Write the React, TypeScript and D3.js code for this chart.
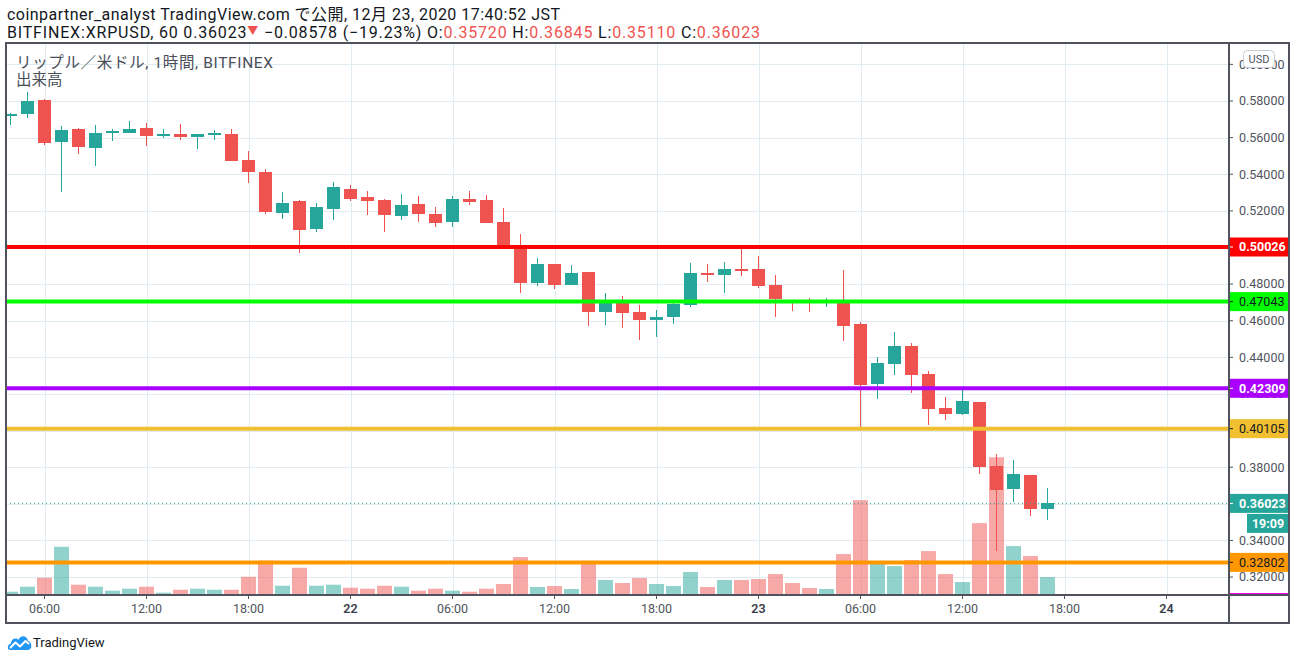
import React, { useEffect } from 'react';
import * as d3 from 'd3';

// ---------- DATA ----------
const startTime = new Date(2020, 11, 21, 4, 0, 0); // first hourly candle
const opens = [
  0.5720, 0.5731, 0.5805, 0.5578, 0.5647, 0.5545, 0.5627, 0.5627, 0.5653, 0.5609,
  0.5620, 0.5605, 0.5614, 0.5620, 0.5478, 0.5412, 0.5190, 0.5254, 0.5103, 0.5212,
  0.5319, 0.5276, 0.5259, 0.5173, 0.5237, 0.5183, 0.5141, 0.5265, 0.5259, 0.5139,
  0.4999, 0.4808, 0.4910, 0.4797, 0.4866, 0.4649, 0.4698, 0.4649, 0.4606, 0.4622,
  0.4688, 0.4861, 0.4851, 0.4882, 0.4882, 0.4795, 0.4710, 0.4710, 0.4698, 0.4704,
  0.4582, 0.4256, 0.4365, 0.4462, 0.4309, 0.4123, 0.4093, 0.4156, 0.3807, 0.3683,
  0.3757, 0.35720,
];
const highs = [
  0.5735, 0.5851, 0.5811, 0.5663, 0.5653, 0.5669, 0.5647, 0.5692, 0.5680, 0.5647,
  0.5674, 0.5620, 0.5642, 0.5647, 0.5527, 0.5429, 0.5303, 0.5259, 0.5243, 0.5358,
  0.5341, 0.5308, 0.5265, 0.5292, 0.5281, 0.5221, 0.5281, 0.5308, 0.5287, 0.5216,
  0.5074, 0.4944, 0.4910, 0.4904, 0.4866, 0.4753, 0.4737, 0.4688, 0.4660, 0.4698,
  0.4915, 0.4910, 0.4921, 0.4996, 0.4953, 0.4850, 0.4715, 0.4722, 0.4722, 0.4877,
  0.4594, 0.4402, 0.4538, 0.4478, 0.4325, 0.4183, 0.4222, 0.4156, 0.3872, 0.3839,
  0.3757, 0.36845,
];
const lows = [
  0.5669, 0.5709, 0.5560, 0.5305, 0.5511, 0.5447, 0.5583, 0.5627, 0.5554, 0.5600,
  0.5587, 0.5540, 0.5587, 0.5472, 0.5352, 0.5184, 0.5157, 0.4971, 0.5086, 0.5152,
  0.5255, 0.5179, 0.5086, 0.5152, 0.5141, 0.5113, 0.5113, 0.5234, 0.5135, 0.4995,
  0.4753, 0.4791, 0.4775, 0.4797, 0.4573, 0.4578, 0.4562, 0.4496, 0.4513, 0.4584,
  0.4677, 0.4813, 0.4753, 0.4846, 0.4780, 0.4622, 0.4655, 0.4649, 0.4677, 0.4491,
  0.4015, 0.4170, 0.4305, 0.4207, 0.4030, 0.4060, 0.4087, 0.3765, 0.3344, 0.3612,
  0.3535, 0.35110,
];
const closes = [
  0.5731, 0.5800, 0.5572, 0.5642, 0.5550, 0.5625, 0.5636, 0.5647, 0.5610, 0.5620,
  0.5605, 0.5620, 0.5625, 0.5472, 0.5412, 0.5195, 0.5243, 0.5097, 0.5221, 0.5330,
  0.5266, 0.5256, 0.5179, 0.5232, 0.5184, 0.5135, 0.5265, 0.5250, 0.5135, 0.5003,
  0.4808, 0.4910, 0.4797, 0.4861, 0.4649, 0.4698, 0.4644, 0.4606, 0.4620, 0.4693,
  0.4861, 0.4851, 0.4882, 0.4873, 0.4791, 0.4720, 0.4700, 0.4700, 0.4703, 0.4573,
  0.4251, 0.4369, 0.4462, 0.4305, 0.4120, 0.4092, 0.4161, 0.3803, 0.3677, 0.3763,
  0.3570, 0.36023,
];
const volumes = [
  33, 83, 173, 483, 103, 83, 43, 63, 83, 23,
  53, 63, 53, 53, 183, 343, 93, 273, 93, 103,
  73, 63, 93, 83, 43, 63, 43, 33, 63, 110,
  380, 80, 90, 60, 330, 150, 120, 170, 110, 90,
  230, 80, 150, 150, 160, 210, 120, 70, 60, 410,
  950, 340, 290, 350, 440, 210, 130, 720, 1380, 490,
  390, 180,
];
const priceTicks = [0.32, 0.34, 0.36, 0.38, 0.40, 0.42, 0.44, 0.46, 0.48, 0.50, 0.52, 0.54, 0.56, 0.58, 0.60];
const levelPrices = [0.50026, 0.47043, 0.42309, 0.40105, 0.32802];
const lastPrice = 0.36023;
const countdownLabel = '19:09';
const headerLine1 = 'coinpartner_analyst TradingView.com で公開, 12月 23, 2020 17:40:52 JST';
const symbolLabel = 'BITFINEX:XRPUSD, 60 0.36023';
const changeLabel = ' −0.08578 (−19.23%)';
const ohlcKeys = ['O:', 'H:', 'L:', 'C:'];
const ohlcValues = ['0.35720', '0.36845', '0.35110', '0.36023'];
const legendTitle = 'リップル／米ドル, 1時間, BITFINEX';
const legendVolume = '出来高';

// ---------- STYLE ----------
const UP = '#26a69a';
const DOWN = '#ef5350';
const UP_VOL = 'rgba(38,166,154,0.5)';
const DOWN_VOL = 'rgba(239,83,80,0.5)';
const GRID = '#e1ecf2';
const BORDER = '#50535e';
const TEXT = '#131722';
const AXIS_TEXT = '#50535e';
const levelColors = ['#ff0000', '#00ff00', '#aa00ff', '#f0c030', '#ff9800'];
const levelTextColors = ['#ffffff', '#131722', '#ffffff', '#131722', '#131722'];
const levelTextBold = [true, false, true, false, false];
const FONT = "Roboto, 'Noto Sans CJK JP', sans-serif";

const W = 1296;
const H = 661;
const L = 6, R = 1229, T = 44, B = 595, AXR = 1289, BB = 623;

export default function App() {
  useEffect(() => {
    document.body.style.margin = '0';
  }, []);

  const times = opens.map((_, i) => d3.timeHour.offset(startTime, i));
  const pxPerHour = 17;
  const firstX = 10.5;
  const msH = 3600 * 1000;
  const x = d3
    .scaleTime()
    .domain([
      new Date(startTime.getTime() - ((firstX - L) / pxPerHour) * msH),
      new Date(startTime.getTime() + ((R - firstX) / pxPerHour) * msH),
    ])
    .range([L, R]);
  const pxPerUnit = 1831;
  const y = d3
    .scaleLinear()
    .domain([0.58 - (B - 101) / pxPerUnit, 0.58 + (101 - T) / pxPerUnit])
    .range([B, T]);
  const vMax = d3.max(volumes) as number;
  const yv = d3.scaleLinear().domain([0, vMax]).range([B, B - (B - T) * 0.25]);

  const timeTicks = d3.timeHour.every(6)!.range(x.domain()[0], x.domain()[1]);
  const fmtHour = d3.timeFormat('%H:%M');
  const fmtDay = d3.timeFormat('%-d');
  const tickLabel = (d: Date) => (d.getHours() === 0 ? fmtDay(d) : fmtHour(d));

  const bodyW = 13;
  const volW = 16;

  return (
    <svg width={W} height={H} style={{ display: 'block', background: '#fff' }} fontFamily={FONT}>
      <defs>
        <clipPath id="plot">
          <rect x={L} y={T} width={R - L} height={B - T} />
        </clipPath>
      </defs>
      <rect x={0} y={0} width={W} height={H} fill="#fff" />

      {/* header */}
      <text x={7} y={20} fontSize={16} fill={TEXT} textLength={553} lengthAdjust="spacing">{headerLine1}</text>
      <text x={7} y={38} fontSize={16} fill={TEXT} textLength={753} lengthAdjust="spacing">
        <tspan>{symbolLabel}</tspan>
        <tspan fill={DOWN} fontSize={11} dy={-3}>▼</tspan>
        <tspan dy={3}>{changeLabel} </tspan>
        {ohlcKeys.map((k, i) => (
          <React.Fragment key={k}>
            <tspan fill={TEXT}>{k}</tspan>
            <tspan fill={DOWN}>{ohlcValues[i]}{i < 3 ? ' ' : ''}</tspan>
          </React.Fragment>
        ))}
      </text>

      {/* grid */}
      <g clipPath="url(#plot)" shapeRendering="crispEdges">
        {priceTicks.map((p) => (
          <line key={'h' + p} x1={L} x2={R} y1={Math.round(y(p)) + 0.5} y2={Math.round(y(p)) + 0.5} stroke={GRID} />
        ))}
        {timeTicks.map((t) => (
          <line key={'v' + t.getTime()} x1={Math.round(x(t)) + 0.5} x2={Math.round(x(t)) + 0.5} y1={T} y2={B} stroke={GRID} />
        ))}
      </g>

      {/* legend */}
      <text x={16} y={68} fontSize={15.5} fill="#4a4e59" textLength={257} lengthAdjust="spacing">{legendTitle}</text>
      <text x={16} y={85} fontSize={15.5} fill="#4a4e59">{legendVolume}</text>

      {/* volume */}
      <g clipPath="url(#plot)">
        {volumes.map((v, i) => {
          const cx = x(times[i]);
          const up = closes[i] >= opens[i];
          return (
            <rect
              key={'vol' + i}
              x={cx - volW / 2 + 0.5}
              y={yv(v)}
              width={volW - 1}
              height={B - yv(v)}
              fill={up ? UP_VOL : DOWN_VOL}
            />
          );
        })}
      </g>

      {/* candles */}
      <g clipPath="url(#plot)" shapeRendering="crispEdges">
        {opens.map((o, i) => {
          const cx = x(times[i]);
          const c = closes[i];
          const up = c >= o;
          const col = up ? UP : DOWN;
          const top = y(Math.max(o, c));
          const bot = y(Math.min(o, c));
          return (
            <g key={'c' + i}>
              <line x1={cx} x2={cx} y1={y(highs[i])} y2={y(lows[i])} stroke={col} strokeWidth={1.3} />
              <rect x={cx - bodyW / 2} y={top} width={bodyW} height={Math.max(1, bot - top)} fill={col} />
            </g>
          );
        })}
      </g>

      {/* current price dotted line */}
      <line x1={L} x2={R} y1={y(lastPrice)} y2={y(lastPrice)} stroke={UP} strokeWidth={1} strokeDasharray="1,3" />

      {/* level lines */}
      {levelPrices.map((p, i) => (
        <line key={'lv' + i} x1={L} x2={R} y1={y(p)} y2={y(p)} stroke={levelColors[i]} strokeWidth={4} />
      ))}

      {/* price axis */}
      <g fontSize={12.5} fill={AXIS_TEXT}>
        {priceTicks.map((p) => (
          <g key={'pt' + p}>
            <line x1={R} x2={R + 4} y1={y(p)} y2={y(p)} stroke={AXIS_TEXT} />
            <text x={R + 10} y={y(p)} dy="0.35em">{d3.format('.5f')(p)}</text>
          </g>
        ))}
      </g>
      {/* USD badge */}
      <rect x={1243.5} y={50.5} width={31} height={17} rx={4} fill="#fff" stroke="#c9ccd3" />
      <text x={1259} y={59} dy="0.35em" textAnchor="middle" fontSize={11} fill={AXIS_TEXT}>USD</text>

      {/* level labels */}
      {levelPrices.map((p, i) => (
        <g key={'ll' + i}>
          <rect x={R} y={y(p) - 9.5} width={AXR - R} height={19} fill={levelColors[i]} />
          <line x1={R} x2={R + 4} y1={y(p)} y2={y(p)} stroke={levelTextColors[i]} />
          <text
            x={R + 10}
            y={y(p)}
            dy="0.35em"
            fontSize={12.5}
            fontWeight={levelTextBold[i] ? 700 : 400}
            fill={levelTextColors[i]}
          >
            {d3.format('.5f')(p)}
          </text>
        </g>
      ))}
      {/* last price label */}
      <rect x={R} y={y(lastPrice) - 9.5} width={AXR - R} height={19} fill={UP} />
      <line x1={R} x2={R + 4} y1={y(lastPrice)} y2={y(lastPrice)} stroke="#fff" />
      <text x={R + 10} y={y(lastPrice)} dy="0.35em" fontSize={12.5} fontWeight={700} fill="#fff">
        {d3.format('.5f')(lastPrice)}
      </text>
      <rect x={1247} y={y(lastPrice) + 10.5} width={AXR - 1247} height={19} fill={UP} />
      <text x={1268} y={y(lastPrice) + 20} dy="0.35em" textAnchor="middle" fontSize={12.5} fontWeight={700} fill="#fff">
        {countdownLabel}
      </text>
      {/* magenta off-scale marker */}
      <line x1={R} x2={AXR} y1={B - 1} y2={B - 1} stroke="#ff00ff" strokeWidth={2} />

      {/* time axis */}
      <g fontSize={12.5} fill={AXIS_TEXT}>
        {timeTicks.map((t) => (
          <g key={'tt' + t.getTime()}>
            <line x1={x(t)} x2={x(t)} y1={B} y2={B + 4} stroke={AXIS_TEXT} />
            <text
              x={x(t)}
              y={613}
              textAnchor="middle"
              fontWeight={t.getHours() === 0 ? 600 : 400}
              fill={t.getHours() === 0 ? '#3a3e49' : AXIS_TEXT}
            >
              {tickLabel(t)}
            </text>
          </g>
        ))}
      </g>

      {/* frame */}
      <g fill="none" stroke={BORDER} strokeWidth={1.5} shapeRendering="crispEdges">
        <rect x={L} y={T - 1} width={AXR - L} height={BB - T + 1} />
        <line x1={R} x2={R} y1={T - 1} y2={BB} />
        <line x1={L} x2={AXR} y1={B} y2={B} />
      </g>

      {/* footer logo */}
      <g transform="translate(7,633)">
        <path
          d="M3 17 C0 17 0 11 4 10.5 C4 6 9 4 11.5 7 C13 2 20 2 21 8 C25 8 26 17 21 17 Z"
          fill="#2196f3"
        />
        <path d="M3 15 L8.5 9.5 L13 13.5 L18.5 8 L22 11" fill="none" stroke="#fff" strokeWidth={2} strokeLinejoin="round" />
      </g>
      <text x={33} y={647} fontSize={13} fill={TEXT}>TradingView</text>
    </svg>
  );
}
